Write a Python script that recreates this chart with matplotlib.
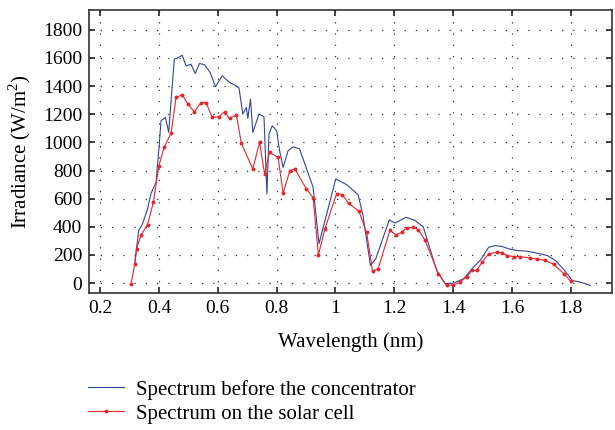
import numpy as np
import matplotlib.pyplot as plt

plt.rcParams['font.family'] = ['Liberation Serif', 'DejaVu Serif']
plt.rcParams['mathtext.fontset'] = 'custom'
plt.rcParams['mathtext.rm'] = 'Liberation Serif'

# spectrum before the concentrator (blue)
wl_before = [0.318, 0.331, 0.344, 0.361, 0.373, 0.390, 0.401, 0.407, 0.422, 0.433,
             0.452, 0.464, 0.479, 0.492, 0.509, 0.523, 0.538, 0.555, 0.574, 0.592,
             0.615, 0.640, 0.663, 0.672, 0.685, 0.697, 0.702, 0.711, 0.719, 0.740,
             0.757, 0.767, 0.774, 0.785, 0.800, 0.810, 0.822, 0.839, 0.856, 0.878,
             0.924, 0.944, 1.001, 1.038, 1.077, 1.094, 1.119, 1.137, 1.183, 1.203,
             1.240, 1.271, 1.299, 1.344, 1.373, 1.401, 1.436, 1.464, 1.492, 1.521,
             1.543, 1.567, 1.589, 1.617, 1.651, 1.686, 1.720, 1.748, 1.777, 1.805,
             1.833, 1.867]
irr_before = [150, 374, 421, 527, 638, 716, 988, 1154, 1177, 1071,
              1591, 1600, 1619, 1543, 1555, 1489, 1560, 1551, 1496, 1395,
              1473, 1425, 1402, 1387, 1201, 1248, 1170, 1307, 1071, 1201,
              1182, 634, 1059, 1118, 1083, 941, 822, 941, 969, 953,
              681, 280, 740, 700, 629, 475, 125, 173, 449, 427,
              468, 445, 397, 90, -4, 0, 31, 102, 161, 255,
              267, 260, 244, 232, 227, 213, 196, 161, 95, 19,
              7, -16]

# spectrum on the solar cell (red)
wl_cell = [0.305, 0.318, 0.324, 0.339, 0.361, 0.381, 0.399, 0.418, 0.441, 0.458,
           0.479, 0.498, 0.520, 0.543, 0.560, 0.581, 0.603, 0.623, 0.640, 0.663,
           0.680, 0.719, 0.742, 0.759, 0.776, 0.805, 0.822, 0.845, 0.862, 0.901,
           0.924, 0.942, 0.964, 1.004, 1.023, 1.045, 1.080, 1.106, 1.126, 1.145,
           1.185, 1.206, 1.225, 1.242, 1.265, 1.282, 1.305, 1.350, 1.378, 1.401,
           1.424, 1.447, 1.464, 1.481, 1.498, 1.521, 1.550, 1.567, 1.583, 1.606,
           1.629, 1.663, 1.686, 1.714, 1.742, 1.777, 1.801]
irr_cell = [-4, 138, 244, 343, 416, 574, 830, 969, 1064, 1319,
            1338, 1272, 1217, 1283, 1283, 1177, 1182, 1217, 1170, 1196,
            993, 811, 1000, 776, 929, 893, 638, 799, 811, 669,
            607, 200, 386, 636, 629, 567, 510, 360, 85, 102,
            374, 343, 362, 393, 397, 379, 303, 67, -16, -12,
            7, 47, 90, 90, 149, 208, 220, 215, 196, 189,
            189, 177, 172, 161, 133, 67, 12]

fig = plt.figure(figsize=(6.15, 4.3), dpi=100)
ax = fig.add_axes([0.1447, 0.3186, 0.8503, 0.6581])

ax.plot(wl_before, irr_before, color='#34449a', lw=0.8,
        label='Spectrum before the concentrator')
ax.plot(wl_cell, irr_cell, color='#e8262a', lw=0.8, marker='o', ms=1.8,
        label='Spectrum on the solar cell')

ax.set_xlim(0.162, 1.94)
ax.set_ylim(-70, 1940)
ax.set_xticks(np.arange(0.2, 1.81, 0.2))
ax.set_xticklabels(['0.2', '0.4', '0.6', '0.8', '1', '1.2', '1.4', '1.6', '1.8'])
ax.set_yticks(np.arange(0, 1801, 200))
ax.tick_params(direction='in', top=True, right=True, length=4, width=1.2,
               labelsize=14, color='#222222', pad=5)
for s in ax.spines.values():
    s.set_linewidth(1.2)
    s.set_color('#333333')
ax.grid(True, color='#333333', linestyle=(0, (1, 8)), lw=0.9)

ax.set_xlabel('Wavelength (nm)', fontsize=15, labelpad=11)
ax.set_ylabel('Irradiance (W/m$^2$)', fontsize=15, labelpad=7)

fig.legend(loc='upper left', bbox_to_anchor=(0.13, 0.136), frameon=False,
           fontsize=15, handlelength=1.7, handletextpad=0.6, labelspacing=0.2,
           borderaxespad=0)

fig.savefig('out.png', dpi=100)
